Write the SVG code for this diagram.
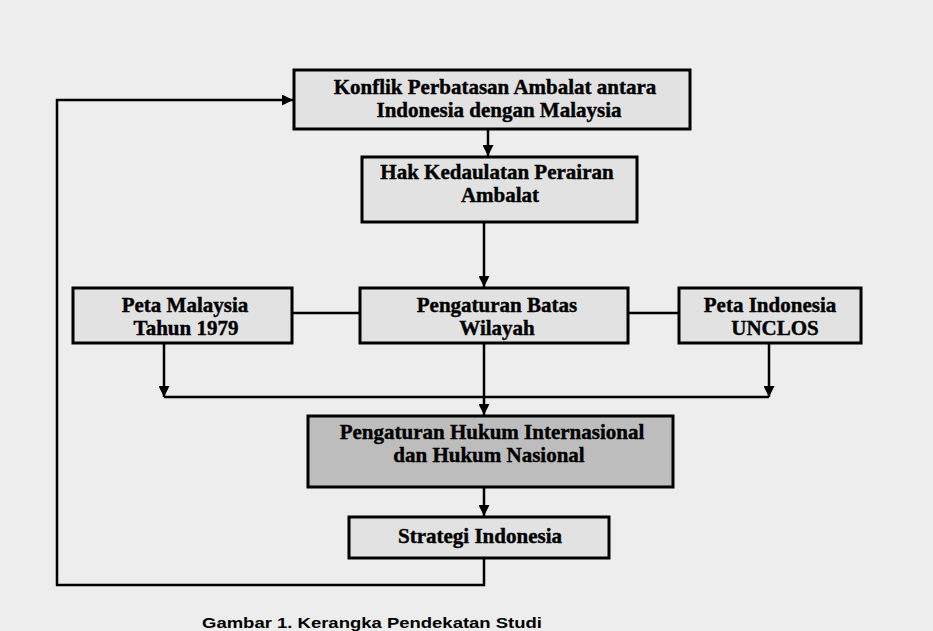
<svg xmlns="http://www.w3.org/2000/svg" width="933" height="631" viewBox="0 0 933 631">
<style>
.box{fill:#e2e2e2;stroke:#000;stroke-width:3}
.shade{fill:#bdbdbd;stroke:#000;stroke-width:3}
.lbl{font-family:"Liberation Serif","Times New Roman",serif;font-weight:bold;font-size:21px;fill:#000;stroke:#000;stroke-width:0.4;text-anchor:middle}
.con{fill:none;stroke:#000;stroke-width:2.5}
.cap{font-family:"Liberation Sans",Arial,sans-serif;font-weight:bold;font-size:15px;fill:#000}
</style>
<defs>
<marker id="ah" viewBox="0 0 10 10" refX="10" refY="5" markerWidth="11" markerHeight="11" markerUnits="userSpaceOnUse" orient="auto"><path d="M0,0 L10,5 L0,10 z" fill="#000"/></marker>
</defs>
<rect x="0" y="0" width="933" height="631" fill="#ededed"/>
<g id="connectors">
<path class="con" d="M488,129 V156" marker-end="url(#ah)"/>
<path class="con" d="M484,222 V287" marker-end="url(#ah)"/>
<path class="con" d="M484,343 V415" marker-end="url(#ah)"/>
<path class="con" d="M164,343 V397" marker-end="url(#ah)"/>
<path class="con" d="M769,343 V397" marker-end="url(#ah)"/>
<path class="con" d="M164,397 H769"/>
<path class="con" d="M292,313 H360"/>
<path class="con" d="M628,313 H679"/>
<path class="con" d="M484,487 V516" marker-end="url(#ah)"/>
<path class="con" d="M484,558 V585 H57 V100 H293" marker-end="url(#ah)"/>
</g>
<g id="n1"><rect class="box" x="294" y="70" width="396" height="59"/>
<text class="lbl" x="495" y="94">Konflik Perbatasan Ambalat antara</text>
<text class="lbl" x="499" y="117">Indonesia dengan Malaysia</text></g>
<g id="n2"><rect class="box" x="362" y="157" width="275" height="65"/>
<text class="lbl" x="497" y="179">Hak Kedaulatan Perairan</text>
<text class="lbl" x="500" y="202">Ambalat</text></g>
<g id="n3"><rect class="box" x="73" y="288" width="219" height="55"/>
<text class="lbl" x="185" y="312">Peta Malaysia</text>
<text class="lbl" x="186" y="335">Tahun 1979</text></g>
<g id="n4"><rect class="box" x="360" y="288" width="268" height="55"/>
<text class="lbl" x="497" y="312">Pengaturan Batas</text>
<text class="lbl" x="497" y="335">Wilayah</text></g>
<g id="n5"><rect class="box" x="679" y="288" width="182" height="55"/>
<text class="lbl" x="770" y="312">Peta Indonesia</text>
<text class="lbl" x="775" y="335">UNCLOS</text></g>
<g id="n6"><rect class="shade" x="308" y="416" width="365" height="71"/>
<text class="lbl" x="492" y="439">Pengaturan Hukum Internasional</text>
<text class="lbl" x="489" y="462">dan Hukum Nasional</text></g>
<g id="n7"><rect class="box" x="349" y="517" width="260" height="41"/>
<text class="lbl" x="480" y="543">Strategi Indonesia</text></g>
<text class="cap" x="202" y="628" textLength="340" lengthAdjust="spacingAndGlyphs">Gambar 1. Kerangka Pendekatan Studi</text>
</svg>
